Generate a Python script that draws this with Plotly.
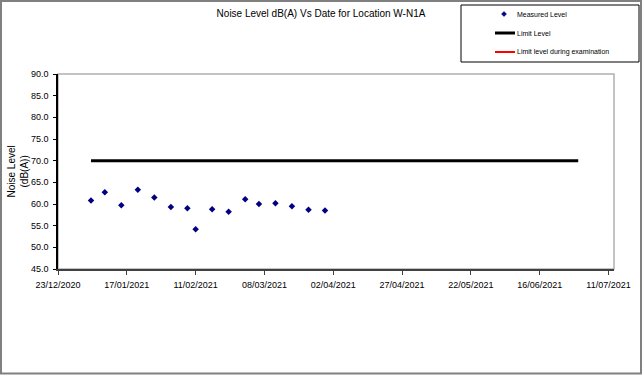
import plotly.graph_objects as go

# ---- data ----
measured_dates = ["2021-01-04", "2021-01-09", "2021-01-15", "2021-01-21", "2021-01-27",
                  "2021-02-02", "2021-02-08", "2021-02-11", "2021-02-17", "2021-02-23",
                  "2021-03-01", "2021-03-06", "2021-03-12", "2021-03-18", "2021-03-24",
                  "2021-03-30"]
measured_levels = [60.8, 62.7, 59.7, 63.3, 61.5, 59.3, 59.0, 54.2, 58.8, 58.2,
                   61.1, 60.0, 60.2, 59.5, 58.7, 58.5]
limit_dates = ["2021-01-04", "2021-06-30"]
limit_levels = [70.0, 70.0]
exam_limit_dates = []
exam_limit_levels = []
x_tick_dates = ["2020-12-23", "2021-01-17", "2021-02-11", "2021-03-08", "2021-04-02",
                "2021-04-27", "2021-05-22", "2021-06-16", "2021-07-11"]
x_tick_labels = ["23/12/2020", "17/01/2021", "11/02/2021", "08/03/2021", "02/04/2021",
                 "27/04/2021", "22/05/2021", "16/06/2021", "11/07/2021"]
legend_labels = ["Measured Level", "Limit Level", "Limit level during examination"]
title_text = "Noise Level dB(A) Vs Date for Location W-N1A"
y_title = "Noise Level<br>(dB(A))"

W, H = 643, 376
L, R, T, B = 58, 614, 74, 269  # plot area in pixels


def px(x):
    return (x - L) / (R - L)


def py(y):
    return (B - y) / (B - T)


FONT = "Liberation Sans, Arial, sans-serif"

fig = go.Figure()
fig.add_trace(go.Scatter(x=limit_dates, y=limit_levels, mode="lines",
                         line=dict(color="black", width=3), name=legend_labels[1],
                         showlegend=False))
fig.add_trace(go.Scatter(x=exam_limit_dates, y=exam_limit_levels, mode="lines",
                         line=dict(color="red", width=2), name=legend_labels[2],
                         showlegend=False))
fig.add_trace(go.Scatter(x=measured_dates, y=measured_levels, mode="markers",
                         marker=dict(symbol="diamond", size=5, color="#000080"),
                         name=legend_labels[0], showlegend=False))

shapes = []
# outer chart border
shapes.append(dict(type="rect", xref="paper", yref="paper",
                   x0=px(1), x1=px(641), y0=py(1), y1=py(373.5),
                   line=dict(color="#808080", width=2)))
# plot area border (grey)
shapes.append(dict(type="rect", xref="paper", yref="paper",
                   x0=0, x1=1, y0=0, y1=1, line=dict(color="#b0b0b0", width=1.5),
                   layer="below"))
# legend box
shapes.append(dict(type="rect", xref="paper", yref="paper",
                   x0=px(461), x1=px(639), y0=py(5), y1=py(62),
                   line=dict(color="black", width=1), fillcolor="white"))
# legend samples
shapes.append(dict(type="path", xref="paper", yref="paper",
                   path="M {a},{b} L {c},{d} L {a},{e} L {f},{d} Z".format(
                       a=px(504), b=py(11.5), c=px(506.5), d=py(14), e=py(16.5), f=px(501.5)),
                   fillcolor="#000080", line=dict(color="#000080", width=0.5)))
shapes.append(dict(type="line", xref="paper", yref="paper",
                   x0=px(495), x1=px(515), y0=py(33), y1=py(33),
                   line=dict(color="black", width=3)))
shapes.append(dict(type="line", xref="paper", yref="paper",
                   x0=px(495), x1=px(515), y0=py(52), y1=py(52),
                   line=dict(color="red", width=2)))

annotations = []
for lbl, yy in zip(legend_labels, [14, 33, 52]):
    annotations.append(dict(xref="paper", yref="paper", x=px(515), y=py(yy),
                            xanchor="left", yanchor="middle", text=lbl, showarrow=False,
                            font=dict(family=FONT, size=7, color="black")))
annotations.append(dict(xref="paper", yref="paper", x=px(17.5), y=py(172),
                        xanchor="center", yanchor="middle", text=y_title, textangle=-90,
                        showarrow=False, font=dict(family=FONT, size=10, color="black")))

fig.update_layout(
    width=W, height=H,
    margin=dict(l=L, r=W - R, t=T, b=H - B, pad=0),
    paper_bgcolor="white", plot_bgcolor="white",
    title=dict(text=title_text, x=321 / W, xanchor="center", y=1 - 13 / H,
               yanchor="middle", font=dict(family=FONT, size=10, color="black")),
    font=dict(family=FONT, size=9, color="black"),
    showlegend=False,
    shapes=shapes,
    annotations=annotations,
)
fig.update_xaxes(type="date", range=["2020-12-23", "2021-07-13"],
                 tickvals=x_tick_dates, ticktext=x_tick_labels,
                 ticks="outside", ticklen=4, tickcolor="#404040", tickwidth=1,
                 showline=True, linecolor="#404040", linewidth=1.5,
                 showgrid=False, zeroline=False, ticklabelstandoff=2,
                 tickfont=dict(family=FONT, size=9, color="black"))
fig.update_yaxes(range=[45, 90], dtick=5, tick0=45, tickformat=".1f",
                 ticks="outside", ticklen=3, tickcolor="black", tickwidth=1,
                 showline=True, linecolor="black", linewidth=1.5,
                 showgrid=False, zeroline=False, ticklabelstandoff=3,
                 tickfont=dict(family=FONT, size=9, color="black"))

fig.write_html("out.html",
               config={"displayModeBar": False},
               post_script="document.body.style.margin='0';"
                           "document.body.style.overflow='hidden';")
